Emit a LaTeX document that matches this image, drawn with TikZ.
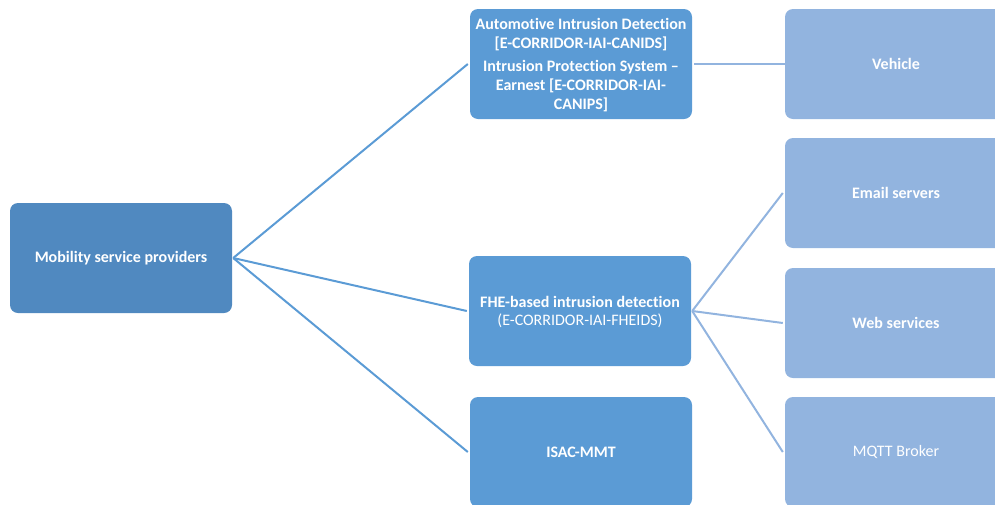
\documentclass[tikz,border=0pt]{standalone}
\usepackage{fontspec}
\setmainfont{Carlito}[Ligatures=NoCommon]
\definecolor{rootc}{RGB}{80,137,192}
\definecolor{midc}{RGB}{91,155,213}
\definecolor{leafc}{RGB}{146,180,223}
\definecolor{lineA}{RGB}{91,155,213}
\definecolor{lineB}{RGB}{146,180,223}
\tikzset{
  box/.style={rounded corners=8pt, minimum width=222pt, minimum height=110pt, inner sep=0pt, text=white, align=center, font=\fontsize{16}{18}\selectfont},
  rootbox/.style={box, fill=rootc},
  midbox/.style={box, fill=midc},
  leafbox/.style={box, fill=leafc},
  linkA/.style={draw=lineA, line width=2pt},
  linkB/.style={draw=lineB, line width=2pt}
}
\begin{document}
\begin{tikzpicture}[x=1pt,y=-1pt]
\useasboundingbox (0,0) rectangle (995,504);
\begin{scope}
\clip (0,0) rectangle (995,504);
\node[rootbox] (msp) at (121,258) {\textbf{Mobility service providers}};
\node[midbox] (aid) at (581,64) {};
\node[font=\fontsize{16}{19}\selectfont, text=white, align=center] (aidt) at (581,65.5) {\textbf{Automotive Intrusion Detection}\\[0pt]\textbf{[E-CORRIDOR-IAI-CANIDS]}\\[4pt]\textbf{Intrusion Protection System –}\\\textbf{Earnest [E-CORRIDOR-IAI-}\\\textbf{CANIPS]}};
\node[midbox] (fhe) at (580,311) {};
\node[font=\fontsize{16}{18}\selectfont, text=white, align=center] (fhet) at (580,312) {\textbf{FHE-based intrusion detection}\\(E-CORRIDOR-IAI-FHEIDS)};
\node[midbox] (isac) at (581,452) {\textbf{ISAC-MMT}};
\node[leafbox] (veh) at (896,64) {\textbf{Vehicle}};
\node[leafbox] (email) at (896,193) {\textbf{Email servers}};
\node[leafbox] (web) at (896,323) {\textbf{Web services}};
\node[leafbox] (mqtt) at (896,452) {MQTT Broker};
\end{scope}
\coordinate (mspR) at ([xshift=1pt]msp.east);
\coordinate (aidL) at ([xshift=-2pt]aid.west);
\coordinate (fheL) at ([xshift=-2pt]fhe.west);
\coordinate (isacL) at ([xshift=-2pt]isac.west);
\coordinate (aidR) at ([xshift=2pt]aid.east);
\coordinate (fheR) at ([xshift=1pt]fhe.east);
\coordinate (vehL) at ([xshift=0pt]veh.west);
\coordinate (emailL) at ([xshift=-2pt]email.west);
\coordinate (webL) at ([xshift=-2pt]web.west);
\coordinate (mqttL) at ([xshift=-2pt]mqtt.west);
\draw[linkA] (mspR) -- (aidL);
\draw[linkA] (mspR) -- (fheL);
\draw[linkA] (mspR) -- (isacL);
\draw[linkB] (aidR) -- (vehL);
\draw[linkB] (fheR) -- (emailL);
\draw[linkB] (fheR) -- (webL);
\draw[linkB] (fheR) -- (mqttL);
\end{tikzpicture}
\end{document}
